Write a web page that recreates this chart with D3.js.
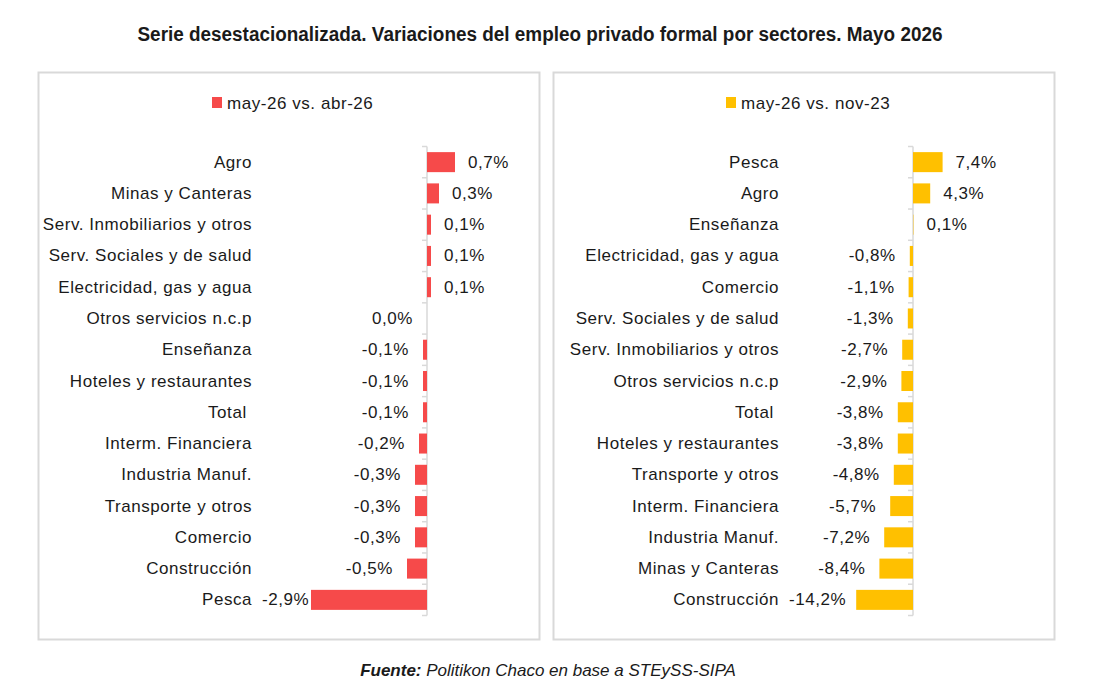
<!DOCTYPE html>
<html>
<head>
<meta charset="utf-8">
<script src="https://cdn.jsdelivr.net/npm/d3@7"></script>
<style>
  body { margin: 0; background: #fff; }
  svg text { font-family: "Liberation Sans", Arial, sans-serif; fill: #1a1a1a; }
  .lbl { font-size: 17px; letter-spacing: 0.55px; }
</style>
</head>
<body>
<svg id="chart" width="1098" height="700"></svg>
<script>
// mensual: may-26 vs. abr-26
const sectoresMes = ['Agro', 'Minas y Canteras', 'Serv. Inmobiliarios y otros', 'Serv. Sociales y de salud',
  'Electricidad, gas y agua', 'Otros servicios n.c.p', 'Enseñanza', 'Hoteles y restaurantes', 'Total\u00a0',
  'Interm. Financiera', 'Industria Manuf.', 'Transporte y otros', 'Comercio', 'Construcción', 'Pesca']
const valoresMes = [0.7, 0.3, 0.1, 0.1, 0.1, 0.0, -0.1, -0.1, -0.1, -0.2, -0.3, -0.3, -0.3, -0.5, -2.9]

// acumulado: may-26 vs. nov-23
const sectoresAcum = ['Pesca', 'Agro', 'Enseñanza', 'Electricidad, gas y agua', 'Comercio', 'Serv. Sociales y de salud',
  'Serv. Inmobiliarios y otros', 'Otros servicios n.c.p', 'Total\u00a0', 'Hoteles y restaurantes', 'Transporte y otros',
  'Interm. Financiera', 'Industria Manuf.', 'Minas y Canteras', 'Construcción']
const valoresAcum = [7.4, 4.3, 0.1, -0.8, -1.1, -1.3, -2.7, -2.9, -3.8, -3.8, -4.8, -5.7, -7.2, -8.4, -14.2]

const svg = d3.select('#chart')

const fmt = v => (v < 0 ? '-' : '') + Math.abs(v).toFixed(1).replace('.', ',') + '%'

svg.append('text')
  .attr('x', 540).attr('y', 34)
  .attr('text-anchor', 'middle').attr('dominant-baseline', 'central')
  .attr('font-family', '"Liberation Sans Narrow", "Roboto", sans-serif')
  .attr('font-weight', 'bold').attr('font-size', 20)
  .attr('textLength', 805).attr('lengthAdjust', 'spacingAndGlyphs')
  .text('Serie desestacionalizada. Variaciones del empleo privado formal por sectores. Mayo 2026')

const drawPanel = (opts) => {

  const g = svg.append('g')

  g.append('rect')
    .attr('x', opts.left).attr('y', 72.5)
    .attr('width', 501).attr('height', 567)
    .attr('fill', 'none').attr('stroke', '#d9d9d9').attr('stroke-width', 2)

  // leyenda
  g.append('rect')
    .attr('x', opts.legendX).attr('y', 97)
    .attr('width', 10).attr('height', 11)
    .attr('fill', opts.color)

  g.append('text')
    .attr('class', 'lbl')
    .attr('x', opts.legendX + 15).attr('y', 103)
    .attr('dominant-baseline', 'central')
    .text(opts.legend)

  const x = d3.scaleLinear()
    .domain(opts.domain)
    .range(opts.range)

  const y = d3.scaleBand()
    .domain(opts.cats)
    .range([146.5, 615.5])
    .paddingInner(0.36)
    .paddingOuter(0.18)

  const step = y.step()
  const x0 = x(0)

  // eje
  g.append('line')
    .attr('x1', x0).attr('x2', x0)
    .attr('y1', y.range()[0]).attr('y2', y.range()[1])
    .attr('stroke', '#d9d9d9').attr('stroke-width', 1.5)

  g.selectAll('.tick-mark')
    .data(d3.range(opts.cats.length + 1))
    .join('line')
    .attr('x1', x0 - 5).attr('x2', x0)
    .attr('y1', i => y.range()[0] + i * step)
    .attr('y2', i => y.range()[0] + i * step)
    .attr('stroke', '#d9d9d9').attr('stroke-width', 1.5)

  const data = opts.cats.map((c, i) => ({ cat: c, val: opts.vals[i] }))

  g.selectAll('.bar')
    .data(data)
    .join('rect')
    .attr('x', d => Math.min(x(d.val), x0))
    .attr('y', d => y(d.cat))
    .attr('width', d => Math.abs(x(d.val) - x0))
    .attr('height', y.bandwidth())
    .attr('fill', opts.color)

  g.selectAll('.cat')
    .data(data)
    .join('text')
    .attr('class', 'lbl')
    .attr('x', opts.catX)
    .attr('y', d => y(d.cat) + y.bandwidth() / 2)
    .attr('text-anchor', 'end')
    .attr('dominant-baseline', 'central')
    .text(d => d.cat)

  g.selectAll('.val')
    .data(data)
    .join('text')
    .attr('class', 'lbl')
    .attr('y', d => y(d.cat) + y.bandwidth() / 2)
    .attr('dominant-baseline', 'central')
    .attr('text-anchor', d => d.val > 0 ? 'start' : 'end')
    .text(d => fmt(d.val))
    .attr('x', function (d) {
      if (d.val > 0) return x(d.val) + 13
      const w = this.getComputedTextLength()
      return Math.max(x(d.val) - 14, opts.catX + 10 + w)
    })
}

drawPanel({
  left: 38.5, legendX: 212, color: '#f64a4a', legend: 'may-26 vs. abr-26',
  cats: sectoresMes, vals: valoresMes,
  domain: [-3, 1], range: [307, 467], catX: 252
})

drawPanel({
  left: 553.5, legendX: 726, color: '#ffc000', legend: 'may-26 vs. nov-23',
  cats: sectoresAcum, vals: valoresAcum,
  domain: [-15, 10], range: [853, 953], catX: 779
})

const fuente = svg.append('text')
  .attr('x', 548).attr('y', 670)
  .attr('text-anchor', 'middle').attr('dominant-baseline', 'central')
  .attr('font-family', '"Roboto", "Liberation Sans", sans-serif')
  .attr('font-style', 'italic').attr('font-size', 17)

fuente.append('tspan').attr('font-weight', 'bold').text('Fuente:')
fuente.append('tspan').text(' Politikon Chaco en base a STEySS-SIPA')
</script>
</body>
</html>
